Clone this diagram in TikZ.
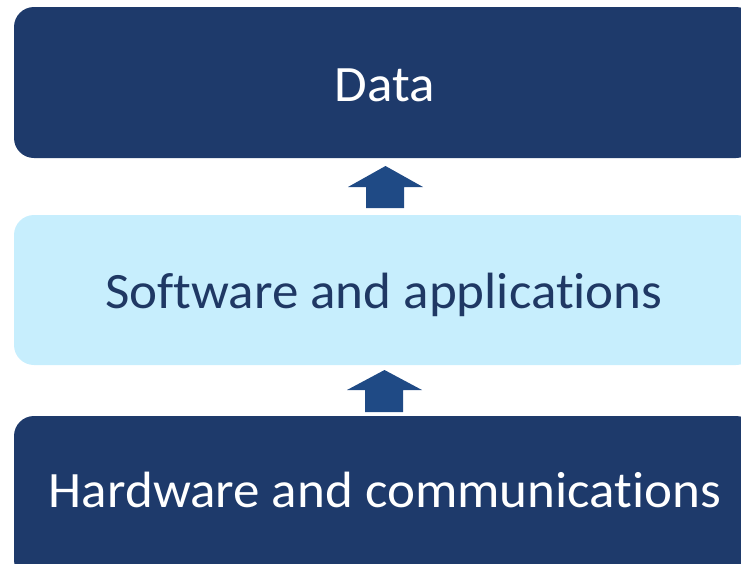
\documentclass[tikz,border=0pt]{standalone}
\usepackage{fontspec}
\setmainfont[Ligatures={NoCommon},FakeStretch=1.04]{Carlito}
\definecolor{boxdark}{HTML}{1E3A6B}
\definecolor{boxlight}{HTML}{C7EEFD}
\definecolor{arrowblue}{HTML}{1F4A85}
\definecolor{textnavy}{HTML}{1F3864}
\begin{document}
\begin{tikzpicture}[x=1pt,y=-1pt,
  layer/.style={rounded corners=20pt, draw=none},
  uparrow/.style={fill=arrowblue, draw=none},
  lbl/.style={anchor=base, inner sep=0pt, font=\fontsize{51}{56}\selectfont}]
\useasboundingbox (0,0) rectangle (741,563);
\clip (0,0) rectangle (741,563);
% boxes
\fill[layer, boxdark] (14,7) rectangle (756,158);
\node[lbl, text=white] (data) at (385,101) {Data};
\fill[layer, boxlight] (14,215) rectangle (756,365);
\node[lbl, text=textnavy] (soft) at (384,308) {Software and applications};
\fill[layer, boxdark] (14,416) rectangle (756,580);
\node[lbl, text=white] (hard) at (385,507) {Hardware and communications};
% arrows
\fill[uparrow] (366,208) -- (366,187) -- (348,187) -- (385.5,166) -- (423,187) -- (404,187) -- (404,208) -- cycle;
\fill[uparrow] (365,412) -- (365,390) -- (347,390) -- (384.5,370) -- (422,390) -- (403,390) -- (403,412) -- cycle;
\end{tikzpicture}
\end{document}
